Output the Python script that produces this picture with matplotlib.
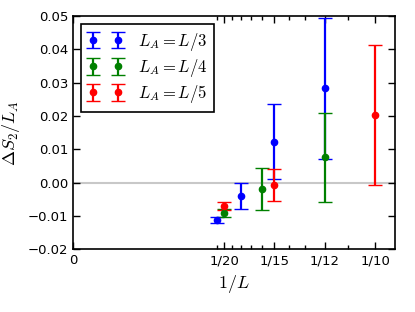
import matplotlib
matplotlib.use('Agg')
import matplotlib.pyplot as plt

# system sizes and Delta S_2 / L_A values for each subsystem fraction
L_third = [21, 18, 15, 12]
val_third = [-0.0112, -0.0040, 0.0123, 0.0283]
err_third = [0.0010, 0.0038, 0.0112, 0.0212]

L_quarter = [20, 16, 12]
val_quarter = [-0.0091, -0.0019, 0.0076]
err_quarter = [0.0012, 0.0062, 0.0134]

L_fifth = [20, 15, 10]
val_fifth = [-0.0070, -0.0007, 0.0203]
err_fifth = [0.0011, 0.0049, 0.0210]

labels = [r'$L_A=L/3$', r'$L_A=L/4$', r'$L_A=L/5$']

major_L = [20, 15, 12, 10]
minor_L = [21, 19, 18, 17, 16, 14, 13, 11]

plt.rcParams['mathtext.fontset'] = 'cm'
plt.rcParams['font.size'] = 9.5

fig = plt.figure(figsize=(4.15, 3.12), dpi=100)
ax = fig.add_axes([0.176, 0.201, 0.776, 0.748])

ax.axhline(0, color='#c8c8c8', lw=1.5, zorder=0)

series = [(L_third, val_third, err_third, 'b'),
          (L_quarter, val_quarter, err_quarter, 'g'),
          (L_fifth, val_fifth, err_fifth, 'r')]
for (Ls, vals, errs, c), lab in zip(series, labels):
    xs = [1.0 / l for l in Ls]
    ax.errorbar(xs, vals, yerr=errs, fmt='o', color=c, ms=4.5, mec=c,
                elinewidth=1.6, capsize=5, capthick=1, label=lab)

ax.set_xlim(0, 0.1066)
ax.set_ylim(-0.02, 0.05)
ax.set_xticks([0] + [1.0 / l for l in major_L])
ax.set_xticklabels(['0'] + ['1/%d' % l for l in major_L])
ax.set_xticks([1.0 / l for l in minor_L], minor=True)
yt = [-0.02, -0.01, 0.0, 0.01, 0.02, 0.03, 0.04, 0.05]
ax.set_yticks(yt)
ax.set_yticklabels(['%.2f' % v if v >= 0 else '\u2212%.2f' % -v for v in yt])
ax.tick_params(which='both', direction='in', top=True, right=True)
ax.tick_params(which='major', length=5, width=1)
ax.tick_params(which='minor', length=3, width=1)
for s in ax.spines.values():
    s.set_linewidth(1.2)

ax.set_xlabel(r'$1/L$', fontsize=13)
ax.set_ylabel(r'$\Delta S_2/L_A$', fontsize=13)

leg = ax.legend(loc='upper left', numpoints=2, fancybox=False, fontsize=12,
                framealpha=1, edgecolor='black', borderaxespad=0.5,
                borderpad=0.4, handlelength=2.1, handletextpad=0.9,
                labelspacing=0.25)
leg.get_frame().set_linewidth(1.2)

fig.savefig('out.png', dpi=100)
